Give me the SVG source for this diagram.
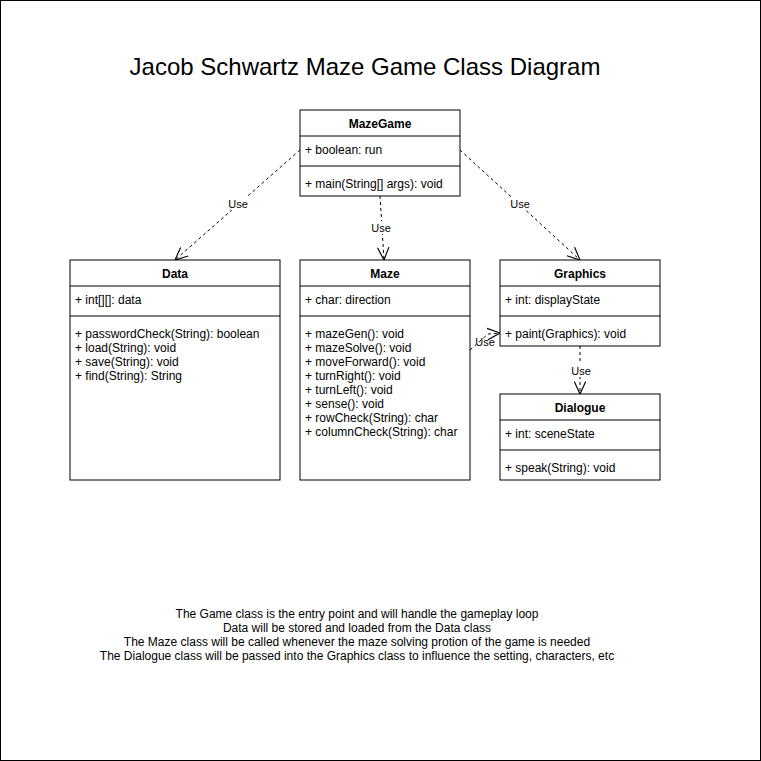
<svg xmlns="http://www.w3.org/2000/svg" width="761" height="761" viewBox="0 0 761 761">
<defs>
<style>
text{font-family:"Liberation Sans",Arial,Helvetica,sans-serif;font-size:12px;fill:#000}
.t{font-weight:bold;text-anchor:middle}
.box{fill:#fff;stroke:#000;stroke-width:1}
.ln{stroke:#000;stroke-width:1}
.edge{fill:none;stroke:#000;stroke-width:1;stroke-dasharray:3 3}
.lbl{text-anchor:middle;font-size:11px}
.c{text-anchor:middle}
</style>
<marker id="open" markerUnits="userSpaceOnUse" markerWidth="16" markerHeight="16" viewBox="-12 -6 14 12" refX="0" refY="0" orient="auto">
<path d="M-11,-5 L0,0 L-11,5" fill="none" stroke="#000" stroke-width="1"/>
</marker>
</defs>
<rect x="0.5" y="0.5" width="760" height="760" fill="#fff" stroke="#000" stroke-width="1"/>
<text x="365" y="75" class="c" style="font-size:24px">Jacob Schwartz Maze Game Class Diagram</text>

<g id="edges">
<path class="edge" d="M300,150 L175,260" marker-end="url(#open)"/>
<rect x="227" y="197" width="22" height="13" fill="#fff"/>
<text x="238" y="208" class="lbl">Use</text>
<path class="edge" d="M380,196 L384,260" marker-end="url(#open)"/>
<rect x="370" y="221" width="22" height="13" fill="#fff"/>
<text x="381" y="232" class="lbl">Use</text>
<path class="edge" d="M460,150 L580,260" marker-end="url(#open)"/>
<rect x="509" y="197" width="22" height="13" fill="#fff"/>
<text x="520" y="208" class="lbl">Use</text>
<path class="edge" d="M580,346 L580,394" marker-end="url(#open)"/>
<rect x="570" y="364" width="22" height="13" fill="#fff"/>
<text x="581" y="375" class="lbl">Use</text>
<path class="edge" d="M470,350 L488,334 L500,333" marker-end="url(#open)"/>
<text x="485" y="346" class="lbl">Use</text>
</g>

<g id="MazeGame">
<rect class="box" x="300" y="110" width="160" height="86"/>
<line class="ln" x1="300" y1="136" x2="460" y2="136"/>
<line class="ln" x1="300" y1="166" x2="460" y2="166"/>
<text x="380" y="128" class="t">MazeGame</text>
<text x="305" y="154">+ boolean: run</text>
<text x="305" y="188">+ main(String[] args): void</text>
</g>

<g id="Data">
<rect class="box" x="70" y="260" width="210" height="220"/>
<line class="ln" x1="70" y1="286" x2="280" y2="286"/>
<line class="ln" x1="70" y1="316" x2="280" y2="316"/>
<text x="175" y="278" class="t">Data</text>
<text x="75" y="304">+ int[][]: data</text>
<text x="75" y="338">+ passwordCheck(String): boolean</text>
<text x="75" y="352">+ load(String): void</text>
<text x="75" y="366">+ save(String): void</text>
<text x="75" y="380">+ find(String): String</text>
</g>

<g id="Maze">
<rect class="box" x="300" y="260" width="170" height="220"/>
<line class="ln" x1="300" y1="286" x2="470" y2="286"/>
<line class="ln" x1="300" y1="316" x2="470" y2="316"/>
<text x="385" y="278" class="t">Maze</text>
<text x="305" y="304">+ char: direction</text>
<text x="305" y="338">+ mazeGen(): void</text>
<text x="305" y="352">+ mazeSolve(): void</text>
<text x="305" y="366">+ moveForward(): void</text>
<text x="305" y="380">+ turnRight(): void</text>
<text x="305" y="394">+ turnLeft(): void</text>
<text x="305" y="408">+ sense(): void</text>
<text x="305" y="422">+ rowCheck(String): char</text>
<text x="305" y="436">+ columnCheck(String): char</text>
</g>

<g id="Graphics">
<rect class="box" x="500" y="260" width="160" height="86"/>
<line class="ln" x1="500" y1="286" x2="660" y2="286"/>
<line class="ln" x1="500" y1="316" x2="660" y2="316"/>
<text x="580" y="278" class="t">Graphics</text>
<text x="505" y="304">+ int: displayState</text>
<text x="505" y="338">+ paint(Graphics): void</text>
</g>

<g id="Dialogue">
<rect class="box" x="500" y="394" width="160" height="86"/>
<line class="ln" x1="500" y1="420" x2="660" y2="420"/>
<line class="ln" x1="500" y1="450" x2="660" y2="450"/>
<text x="580" y="412" class="t">Dialogue</text>
<text x="505" y="438">+ int: sceneState</text>
<text x="505" y="472">+ speak(String): void</text>
</g>

<g id="notes">
<text x="357" y="618" class="c">The Game class is the entry point and will handle the gameplay loop</text>
<text x="357" y="632" class="c">Data will be stored and loaded from the Data class</text>
<text x="357" y="646" class="c">The Maze class will be called whenever the maze solving protion of the game is needed</text>
<text x="357" y="660" class="c">The Dialogue class will be passed into the Graphics class to influence the setting, characters, etc</text>
</g>
</svg>
